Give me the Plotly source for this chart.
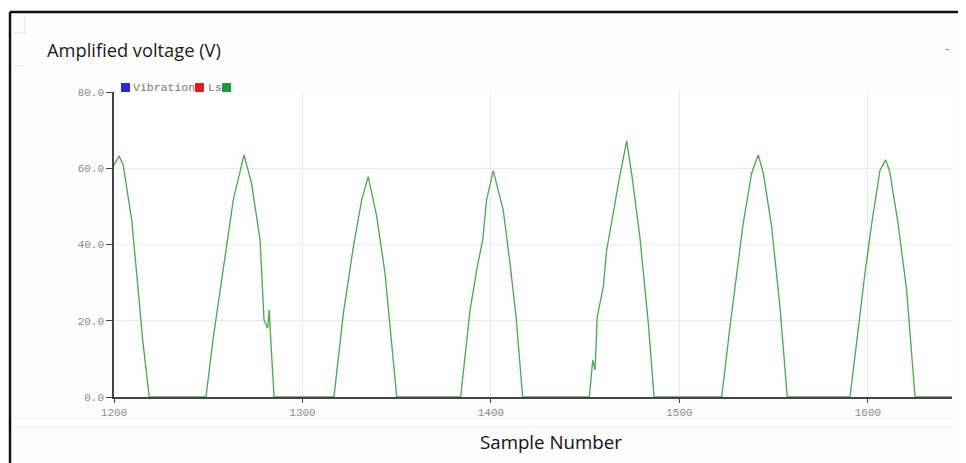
import plotly.graph_objects as go

# ---- data ----
sample_number = [
    1200, 1202.7, 1204.9, 1209.4, 1212, 1215.2, 1218.7,
    1248.8, 1252.5, 1257.8, 1261.5, 1263.3, 1269, 1273, 1277.5, 1279.6, 1281.5, 1282.4, 1282.8, 1284.9,
    1316.7, 1321.7, 1327, 1331.4, 1334.9, 1339.4, 1343.8, 1346.4, 1350,
    1383.9, 1388.9, 1392.4, 1395.6, 1397.7, 1401.2, 1406.5, 1410.1, 1413.3, 1416.8,
    1452.2, 1454, 1455.2, 1456.4, 1459.6, 1461.4, 1464.9, 1467.6, 1472, 1474.6, 1479, 1483.5, 1486.5,
    1522.4, 1526.8, 1530.3, 1533.8, 1538.3, 1541.8, 1544.5, 1548.9, 1553.3, 1557.2,
    1590.5, 1594.9, 1598.4, 1602, 1606.4, 1609.4, 1611.6, 1616, 1620.5, 1625, 1644.6,
]
ls_voltage = [
    60.8, 63.2, 60.8, 46.4, 32.5, 15.0, 0,
    0, 15.0, 32.5, 44.7, 51.7, 63.5, 56.0, 41.2, 20.2, 18.1, 22.8, 18.4, 0,
    0, 22.0, 39.4, 51.7, 57.8, 47.3, 32.4, 18.4, 0,
    0, 22.8, 33.3, 41.2, 51.7, 59.4, 49.0, 35.1, 21.1, 0,
    0, 9.7, 7.1, 21.1, 28.9, 38.6, 48.2, 56.0, 67.2, 58.7, 42.0, 19.3, 0,
    0, 18.4, 32.4, 45.5, 58.7, 63.5, 58.7, 44.7, 23.7, 0,
    0, 18.4, 32.4, 45.5, 59.5, 62.2, 59.1, 45.5, 28.1, 0, 0,
]
x_ticks = [1200, 1300, 1400, 1500, 1600]
x_tick_labels = ["1200", "1300", "1400", "1500", "1600"]
y_ticks = [0, 20, 40, 60, 80]
y_tick_labels = ["0.0", "20.0", "40.0", "60.0", "80.0"]
legend_names = ["Vibration", "Ls", ""]
legend_colors = ["#2b2bdc", "#e01c1c", "#1f9a3a"]

# the page body has an 8px margin: work in screen pixels and shift
OFF = 8
SW, SH = 966, 463
W, H = SW - OFF, SH - OFF
L, R, T, B = 114 - OFF, 952 - OFF, 92 - OFF, 397 - OFF  # plot area (figure px)


def px(x):  # screen x -> paper
    return (x - OFF - L) / (R - L)


def py(y):  # screen y -> paper
    return (B - (y - OFF)) / (B - T)


fig = go.Figure()
fig.add_trace(go.Scatter(
    x=sample_number, y=ls_voltage, mode="lines",
    line=dict(color="#4aa74a", width=1.3),
    showlegend=False, hoverinfo="skip",
))

mono = "Liberation Mono"
fig.update_layout(
    width=W, height=H,
    margin=dict(l=L, r=W - R, t=T, b=H - B, pad=0),
    paper_bgcolor="#fcfdfc", plot_bgcolor="#fdfefd",
    showlegend=False,
    xaxis=dict(
        range=[1200, 1644.6], tickvals=x_ticks, ticktext=x_tick_labels,
        showgrid=True, gridcolor="#e9ebe9", gridwidth=1, zeroline=False,
        showline=True, linecolor="#444", linewidth=2,
        ticks="outside", ticklen=4, tickcolor="#444",
        tickfont=dict(family=mono, size=11, color="#8a8a8a"),
        layer="below traces",
    ),
    yaxis=dict(
        range=[0, 80], tickvals=y_ticks, ticktext=y_tick_labels,
        showgrid=True, gridcolor="#e9ebe9", gridwidth=1, zeroline=False,
        showline=True, linecolor="#444", linewidth=1.5,
        ticks="outside", ticklen=6, tickcolor="#444",
        tickfont=dict(family=mono, size=11, color="#8a8a8a"),
        layer="below traces",
    ),
)

shapes = []
annotations = []

# outer black frame of the screenshot
shapes.append(dict(type="line", xref="paper", yref="paper",
                   x0=px(10), x1=px(SW + 5), y0=py(12), y1=py(12),
                   line=dict(color="#111", width=2.5)))
shapes.append(dict(type="line", xref="paper", yref="paper",
                   x0=px(10), x1=px(10), y0=py(12), y1=py(SH + 5),
                   line=dict(color="#111", width=2.5)))
# white outside frame
shapes.append(dict(type="rect", xref="paper", yref="paper",
                   x0=px(0), x1=px(SW + 5), y0=py(11), y1=py(0),
                   fillcolor="white", line=dict(width=0), layer="below"))
shapes.append(dict(type="rect", xref="paper", yref="paper",
                   x0=px(0), x1=px(9), y0=py(0), y1=py(SH + 5),
                   fillcolor="white", line=dict(width=0), layer="below"))
# faint panel lines
for yy in (418, 427):
    shapes.append(dict(type="line", xref="paper", yref="paper",
                       x0=px(14), x1=px(960), y0=py(yy), y1=py(yy),
                       line=dict(color="#ececec", width=1)))
shapes.append(dict(type="line", xref="paper", yref="paper",
                   x0=px(14), x1=px(25), y0=py(66), y1=py(66),
                   line=dict(color="#e6e6e6", width=1)))
shapes.append(dict(type="line", xref="paper", yref="paper",
                   x0=px(25), x1=px(25), y0=py(15), y1=py(33),
                   line=dict(color="#e6e6e6", width=1)))
shapes.append(dict(type="line", xref="paper", yref="paper",
                   x0=px(14), x1=px(25), y0=py(33), y1=py(33),
                   line=dict(color="#e6e6e6", width=1)))

# legend squares and labels
sq_x = [121, 195, 222]
txt_x = [131, 206, None]
for name, col, sx, tx in zip(legend_names, legend_colors, sq_x, txt_x):
    shapes.append(dict(type="rect", xref="paper", yref="paper",
                       x0=px(sx), x1=px(sx + 9), y0=py(92), y1=py(83),
                       fillcolor=col, line=dict(width=0)))
    if name and tx is not None:
        annotations.append(dict(xref="paper", yref="paper", x=px(tx), y=py(87.5),
                                text=name, showarrow=False, xanchor="left", yanchor="middle",
                                font=dict(family=mono, size=11.5, color="#777777")))

annotations.append(dict(xref="paper", yref="paper", x=px(45), y=py(50),
                        text="Amplified voltage (V)", showarrow=False,
                        xanchor="left", yanchor="middle",
                        font=dict(family="Open Sans", size=18.3, color="#1a1a1a")))
annotations.append(dict(xref="paper", yref="paper", x=px(551), y=py(441),
                        text="Sample Number", showarrow=False,
                        xanchor="center", yanchor="middle",
                        font=dict(family="Open Sans", size=18.7, color="#111")))
annotations.append(dict(xref="paper", yref="paper", x=px(947), y=py(48),
                        text="-", showarrow=False,
                        xanchor="center", yanchor="middle",
                        font=dict(family="Open Sans", size=13, color="#888")))

fig.update_layout(shapes=shapes, annotations=annotations)
fig.write_html("out.html")
